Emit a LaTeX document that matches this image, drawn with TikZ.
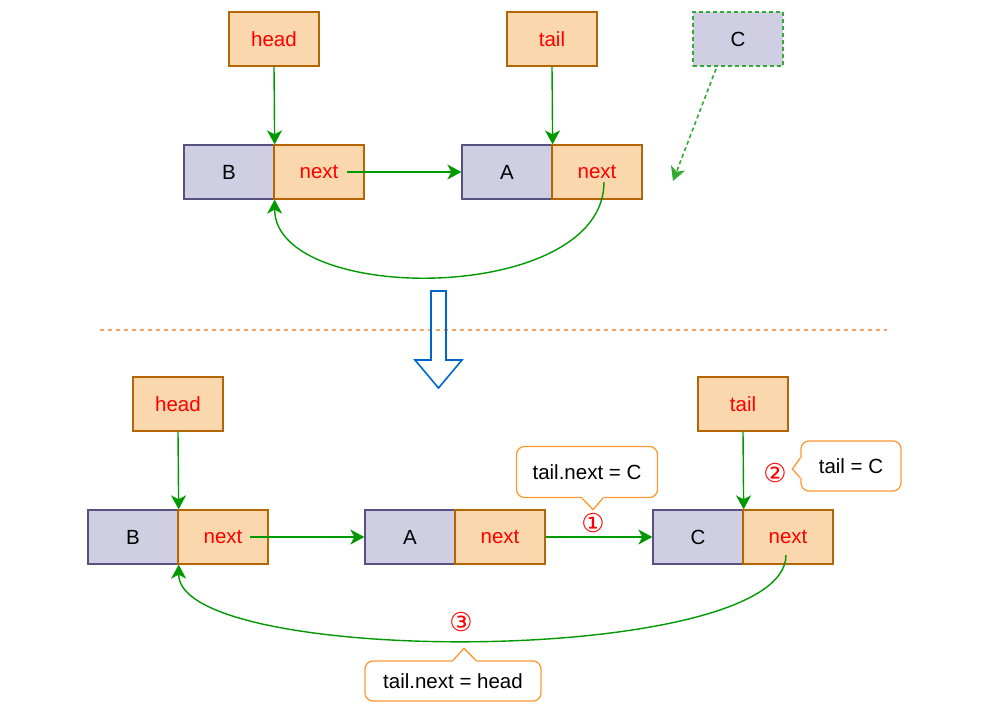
\documentclass[tikz,border=0pt]{standalone}
\usepackage{fontspec}
\setmainfont{Liberation Sans}
\newfontfamily\symfont{DejaVu Sans}
\usetikzlibrary{arrows.meta,calc}
\definecolor{ofill}{HTML}{FAD7AC}
\definecolor{oline}{HTML}{B46504}
\definecolor{pfill}{HTML}{D0CEE2}
\definecolor{pline}{HTML}{56517E}
\definecolor{glink}{HTML}{009900}
\definecolor{gdashc}{HTML}{33AA33}
\definecolor{tred}{HTML}{FF0000}
\definecolor{cline}{HTML}{FF9933}
\definecolor{sepc}{HTML}{F5A162}
\definecolor{bline}{HTML}{0066CC}
\tikzset{
  every node/.style={font=\fontsize{20.5}{24}\selectfont},
  cellbase/.style={draw, line width=1.3pt, minimum width=90pt, minimum height=54pt, inner sep=0pt},
  onode/.style={cellbase, fill=ofill, draw=oline, text=tred},
  ocell/.style={cellbase, fill=ofill, draw=oline, text=tred},
  pcell/.style={cellbase, fill=pfill, draw=pline, text=black},
  cdash/.style={cellbase, fill=pfill, draw=gdashc, line width=1.8pt, dash pattern=on 4pt off 3pt, text=black},
  garrow/.style={draw=glink, line width=1.4pt, -{Stealth[length=14pt,width=15pt,inset=4pt]}},
  gdash/.style={draw=gdashc, line width=1.6pt, dash pattern=on 4pt off 3pt, -{Stealth[length=14pt,width=15pt,inset=4pt]}},
  hollow/.style={draw=bline, line width=1.6pt, line join=miter},
  sepline/.style={draw=sepc, line width=1.1pt, dash pattern=on 4pt off 4pt},
  cbox/.style={draw=cline, line width=1.3pt, fill=white, rounded corners=8pt, inner sep=0pt, text=black},
  cptr/.style={draw=cline, line width=1.3pt, line join=miter},
  stepnum/.style={text=tred, inner sep=0pt, font=\symfont\fontsize{26}{26}\selectfont},
}
\begin{document}
\begin{tikzpicture}[x=1pt,y=-1pt]
\useasboundingbox (0,0) rectangle (983,715);

% ---------- before: B -> A, circular ----------
\node[onode] (h1) at (274,39) {head};
\node[onode] (t1) at (552,39) {tail};
\node[cdash] (c0) at (738,39) {C};
\node[pcell] (b1) at (229,172) {B};
\node[ocell] (b1n) at (319,172) {next};
\node[pcell] (a1) at (507,172) {A};
\node[ocell] (a1n) at (597,172) {next};

\draw[garrow] (h1.south) -- (b1.north east);
\draw[garrow] (t1.south) -- (a1.north east);
\draw[garrow] ($(b1n.center)+(28,0)$) -- (a1.west);
\draw[garrow] ($(a1n.center)+(7,10)$) .. controls +(0,123) and +(0,106) .. (b1.south east);
\coordinate (cdrop) at (673,181);
\draw[gdash] ($(c0.south)+(-22,2)$) -- (cdrop);

% ---------- separator and transition arrow ----------
\draw[sepline] (100,330) -- (887,330);
\draw[hollow] (431,291) -- (446,291) -- (446,360) -- (462,360) -- (438.5,388)
  -- (415,360) -- (431,360) -- cycle;

% ---------- after: B -> A -> C, circular ----------
\node[onode] (h2) at (178,404) {head};
\node[onode] (t2) at (743,404) {tail};
\node[pcell] (b2) at (133,537) {B};
\node[ocell] (b2n) at (223,537) {next};
\node[pcell] (a2) at (410,537) {A};
\node[ocell] (a2n) at (500,537) {next};
\node[pcell] (c2) at (698,537) {C};
\node[ocell] (c2n) at (788,537) {next};

\draw[garrow] (h2.south) -- (b2.north east);
\draw[garrow] (t2.south) -- (c2.north east);
\draw[garrow] ($(b2n.center)+(27,0)$) -- (a2.west);
\draw[garrow] (a2n.east) -- (c2.west);
\draw[garrow] ($(c2n.center)+(-2,18)$) .. controls +(0,112) and +(0,103) .. (b2.south east);

% step markers
\node[stepnum] (n1) at (593,523) {①};
\node[stepnum] (n2) at (775,473) {②};
\node[stepnum] (n3) at (461,622) {③};

% callouts
\node[cbox, minimum width=141pt, minimum height=51pt] (k1) at (587,472) {tail.next = C};
\fill[white] ($(k1.south)+(-5,0)$) -- ($(k1.south)+(6,11.5)$) -- ($(k1.south)+(16,0)$)
  -- ($(k1.south)+(16,-2)$) -- ($(k1.south)+(-5,-2)$) -- cycle;
\draw[cptr] ($(k1.south)+(-5,0)$) -- ($(k1.south)+(6,11.5)$) -- ($(k1.south)+(16,0)$);

\node[cbox, minimum width=100pt, minimum height=50pt] (k2) at (851,466) {tail = C};
\fill[white] ($(k2.west)+(0,-8)$) -- ($(k2.west)+(-8,3)$) -- ($(k2.west)+(0,12)$)
  -- ($(k2.west)+(2,12)$) -- ($(k2.west)+(2,-8)$) -- cycle;
\draw[cptr] ($(k2.west)+(0,-8)$) -- ($(k2.west)+(-8,3)$) -- ($(k2.west)+(0,12)$);

\node[cbox, minimum width=176pt, minimum height=40pt] (k3) at (453,681) {tail.next = head};
\fill[white] ($(k3.north)+(0,0)$) -- ($(k3.north)+(11,-12)$) -- ($(k3.north)+(23,0)$)
  -- ($(k3.north)+(23,2)$) -- ($(k3.north)+(0,2)$) -- cycle;
\draw[cptr] ($(k3.north)+(0,0)$) -- ($(k3.north)+(11,-12)$) -- ($(k3.north)+(23,0)$);
\end{tikzpicture}
\end{document}
